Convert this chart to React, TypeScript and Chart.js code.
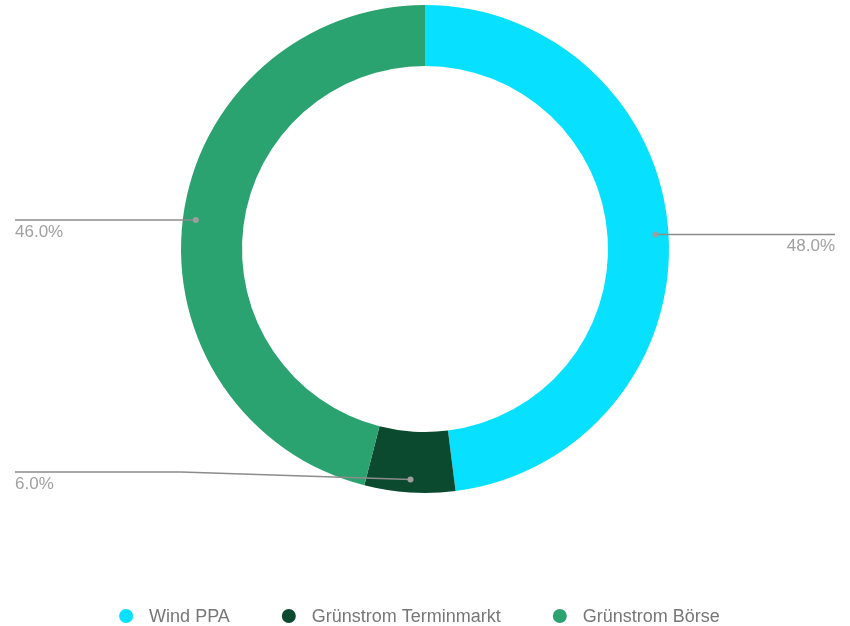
import React, { useEffect, useRef } from "react";
import { Chart, registerables } from "chart.js";

Chart.register(...registerables);

const categories = ["Wind PPA", "Grünstrom Terminmarkt", "Grünstrom Börse"];
const shares = [48.0, 6.0, 46.0];
const sliceColors = ["#08E0FF", "#0C4A30", "#2BA370"];

const FONT = "'Liberation Sans', Arial, Helvetica, sans-serif";

const leaderLabels = {
  id: "leaderLabels",
  afterDatasetsDraw(chart: any) {
    const ctx = chart.ctx;
    const meta = chart.getDatasetMeta(0);
    const W = chart.width;
    ctx.save();
    meta.data.forEach((arc: any, i: number) => {
      const p = arc.getProps(["x", "y", "startAngle", "endAngle", "outerRadius", "innerRadius"], true);
      const mid = (p.startAngle + p.endAngle) / 2;
      const r = p.outerRadius - 13;
      const px = p.x + Math.cos(mid) * r;
      const py = p.y + Math.sin(mid) * r;
      const right = Math.cos(mid) > 0;
      const lim = p.outerRadius * 0.914;
      const ly = Math.max(p.y - lim, Math.min(p.y + lim, py));
      const elbowX = right ? p.x + p.outerRadius : p.x - p.outerRadius;
      const endX = right ? W - 15 : 15;
      ctx.strokeStyle = "#8c8c8c";
      ctx.lineWidth = 1.5;
      ctx.beginPath();
      ctx.moveTo(px, py);
      ctx.lineTo(elbowX, ly);
      ctx.lineTo(endX, ly);
      ctx.stroke();
      ctx.fillStyle = "#9e9e9e";
      ctx.beginPath();
      ctx.arc(px, py, 3, 0, Math.PI * 2);
      ctx.fill();
      ctx.font = `17px ${FONT}`;
      ctx.fillStyle = "#a0a0a0";
      ctx.textBaseline = "alphabetic";
      ctx.textAlign = right ? "right" : "left";
      ctx.fillText(shares[i].toFixed(1) + "%", endX, ly + 16.5);
    });
    ctx.restore();
  },
};

const bottomLegend = {
  id: "bottomLegend",
  afterDraw(chart: any) {
    const ctx = chart.ctx;
    ctx.save();
    ctx.font = `18px ${FONT}`;
    const radius = 7;
    const textGap = 23;
    const itemGap = 52;
    const widths = categories.map((c) => ctx.measureText(c).width);
    const total =
      widths.reduce((a, b) => a + b, 0) + categories.length * (radius + textGap) + (categories.length - 1) * itemGap;
    let x = 419.5 - total / 2;
    const y = 616;
    categories.forEach((c, i) => {
      ctx.fillStyle = sliceColors[i];
      ctx.beginPath();
      ctx.arc(x + radius, y, radius, 0, Math.PI * 2);
      ctx.fill();
      const tx = x + radius + textGap;
      ctx.fillStyle = "#777777";
      ctx.textAlign = "left";
      ctx.textBaseline = "middle";
      ctx.fillText(c, tx, y + 1);
      x = tx + widths[i] + itemGap;
    });
    ctx.restore();
  },
};

export default function App() {
  const ref = useRef<HTMLCanvasElement | null>(null);
  useEffect(() => {
    if (!ref.current) return;
    const chart = new Chart(ref.current, {
      type: "doughnut",
      data: {
        labels: categories,
        datasets: [
          {
            data: shares,
            backgroundColor: sliceColors,
            borderWidth: 0,
          },
        ],
      },
      options: {
        responsive: false,
        animation: false,
        cutout: "75%",
        layout: { padding: { top: 5, bottom: 133, left: 0, right: 0 } },
        plugins: {
          legend: { display: false },
          tooltip: { enabled: false },
        },
      },
      plugins: [leaderLabels, bottomLegend],
    });
    return () => chart.destroy();
  }, []);
  return (
    <div style={{ position: "absolute", left: 0, top: 0, width: 850, height: 626, background: "#fff" }}>
      <canvas ref={ref} width={850} height={626} />
    </div>
  );
}
